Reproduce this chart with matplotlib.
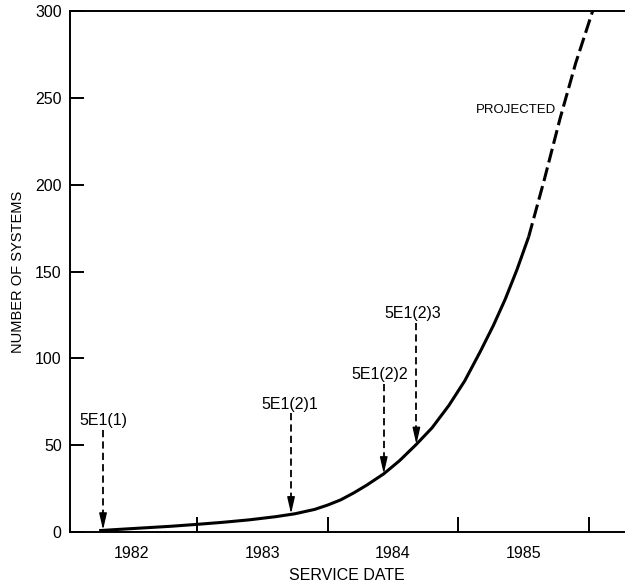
import matplotlib
matplotlib.use("Agg")
import matplotlib.pyplot as plt
from matplotlib.ticker import FixedLocator, NullFormatter, FixedFormatter

plt.rcParams['font.family'] = ['Liberation Sans', 'DejaVu Sans']

# Installed-base curve: actual (solid) and projected (dashed)
actual_years = [1982.25, 1982.4, 1982.6, 1982.8, 1983.0, 1983.2, 1983.4, 1983.6,
                1983.75, 1983.9, 1984.0, 1984.1, 1984.2, 1984.3, 1984.43, 1984.55,
                1984.68, 1984.8, 1984.93, 1985.05, 1985.17, 1985.27, 1985.36,
                1985.45, 1985.54]
actual_systems = [0.8, 1.5, 2.4, 3.3, 4.4, 5.6, 7.0, 8.8,
                  10.5, 13.0, 15.5, 18.5, 22.5, 27.0, 33.5, 41.0,
                  50.5, 60.0, 73.0, 87.0, 104.0, 119.0, 134.0,
                  151.0, 170.0]
projected_years = [1985.54, 1985.66, 1985.78, 1985.9, 1986.03]
projected_systems = [170.0, 203.0, 238.0, 270.0, 300.0]

# Software generic releases
release_names = ["5E1(1)", "5E1(2)1", "5E1(2)2", "5E1(2)3"]
release_dates = [1982.28, 1983.72, 1984.43, 1984.68]
release_systems = [1.2, 10.5, 33.5, 50.5]
release_label_x = [1982.28, 1983.71, 1984.40, 1984.65]
release_label_y = [61.5, 70.8, 88.0, 123.0]
release_line_top = [59.0, 68.5, 85.0, 120.5]

year_labels = ["1982", "1983", "1984", "1985"]
year_boundaries = [1983, 1984, 1985, 1986]
y_ticks = [0, 50, 100, 150, 200, 250, 300]

fig = plt.figure(figsize=(6.26, 5.86), dpi=100)
ax = fig.add_axes([70 / 626, 54 / 586, 554 / 626, 521 / 586])

ax.plot(actual_years, actual_systems, color='black', lw=2.2,
        solid_capstyle='butt', solid_joinstyle='round')
ax.plot(projected_years, projected_systems, color='black', lw=2.2,
        linestyle=(0, (4.6, 1.7)), dash_capstyle='butt')

ax.text(1985.44, 243, "PROJECTED", ha='center', va='center', fontsize=9.5)

for name, x, tip, lx, ly, top in zip(release_names, release_dates, release_systems,
                                     release_label_x, release_label_y, release_line_top):
    ax.text(lx, ly, name, ha='center', va='baseline', fontsize=11.5)
    ax.plot([x, x], [top, tip + 5], color='black', lw=1.3,
            linestyle=(0, (4, 2.3)), dash_capstyle='butt')
    ax.annotate('', xy=(x, tip), xytext=(x, tip + 6),
                arrowprops=dict(arrowstyle='-|>,head_length=10,head_width=2.3',
                                mutation_scale=1, color='black', lw=1.0,
                                shrinkA=0, shrinkB=0))

ax.set_xlim(1982.027, 1986.27)
ax.set_ylim(0, 300)

ax.xaxis.set_major_locator(FixedLocator(year_boundaries))
ax.xaxis.set_major_formatter(NullFormatter())
ax.xaxis.set_minor_locator(FixedLocator([y + 0.5 for y in range(1982, 1986)]))
ax.xaxis.set_minor_formatter(FixedFormatter(year_labels))
ax.tick_params(axis='x', which='major', direction='in', length=11, width=1.4)
ax.tick_params(axis='x', which='minor', length=0, pad=10, labelsize=11.5)

ax.set_yticks(y_ticks)
ax.tick_params(axis='y', direction='in', length=10, width=1.4, pad=6, labelsize=11.5)

for side in ('left', 'bottom', 'top'):
    ax.spines[side].set_linewidth(1.4)
ax.spines['right'].set_visible(False)

ax.set_xlabel("SERVICE DATE", fontsize=11.5, labelpad=5)
ax.set_ylabel("NUMBER OF SYSTEMS", fontsize=10.5, labelpad=7)

fig.savefig("out.png", dpi=100)
